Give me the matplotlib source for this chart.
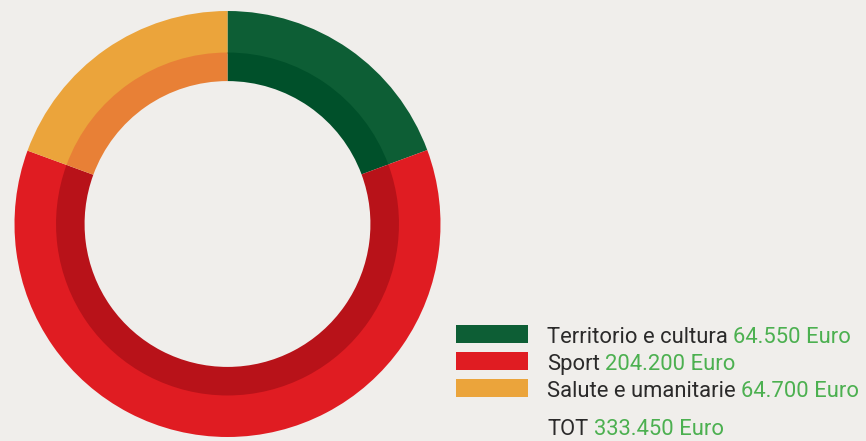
import matplotlib
matplotlib.use("Agg")
import matplotlib.pyplot as plt
from matplotlib.patches import Rectangle

# data
categories = ["Territorio e cultura", "Sport", "Salute e umanitarie"]
amounts = [64550, 204200, 64700]
amount_labels = ["64.550 Euro", "204.200 Euro", "64.700 Euro"]
total_label = "333.450 Euro"

outer_colors = ["#0d5e35", "#e01c22", "#eba43b"]
inner_colors = ["#00502a", "#b81219", "#e88036"]
bg = "#f0eeeb"
dark = "#2b2a2a"
green_txt = "#4cb050"

plt.rcParams['font.family'] = ['Roboto', 'DejaVu Sans']

W, H = 866, 441
fig = plt.figure(figsize=(W / 100, H / 100), dpi=100, facecolor=bg)

# donut axes (pixel geometry)
cx, cy, r = 227.5, 224, 213
ax = fig.add_axes([(cx - r) / W, (H - cy - r) / H, 2 * r / W, 2 * r / H])
ax.set_facecolor(bg)
ax.pie(amounts, radius=1.0, colors=outer_colors, startangle=90, counterclock=False,
       wedgeprops=dict(width=0.2, linewidth=0))
ax.pie(amounts, radius=0.805, colors=inner_colors, startangle=90, counterclock=False,
       wedgeprops=dict(width=0.134, linewidth=0))
ax.set_xlim(-1, 1)
ax.set_ylim(-1, 1)
ax.set_aspect("equal")
ax.axis("off")

# legend
lax = fig.add_axes([0, 0, 1, 1], facecolor="none")
lax.set_xlim(0, W)
lax.set_ylim(H, 0)
lax.axis("off")

fs = 15.8
for i, (cat, lab) in enumerate(zip(categories, amount_labels)):
    y = 325 + i * 27
    lax.add_patch(Rectangle((456, y), 72, 18, color=outer_colors[i], lw=0))
    t = lax.text(547, y + 18, cat, fontsize=fs, color=dark, va="baseline", ha="left")
    lax.annotate(lab, xy=(1, 0), xycoords=t, xytext=(4, 0), textcoords="offset points",
                 fontsize=fs, color=green_txt, va="bottom", ha="left")

t = lax.text(547, 435, "TOT", fontsize=fs, color=dark, va="baseline", ha="left")
lax.annotate(total_label, xy=(1, 0), xycoords=t, xytext=(4, 0), textcoords="offset points",
             fontsize=fs, color=green_txt, va="bottom", ha="left")

fig.savefig("out.png", dpi=100, facecolor=bg)
